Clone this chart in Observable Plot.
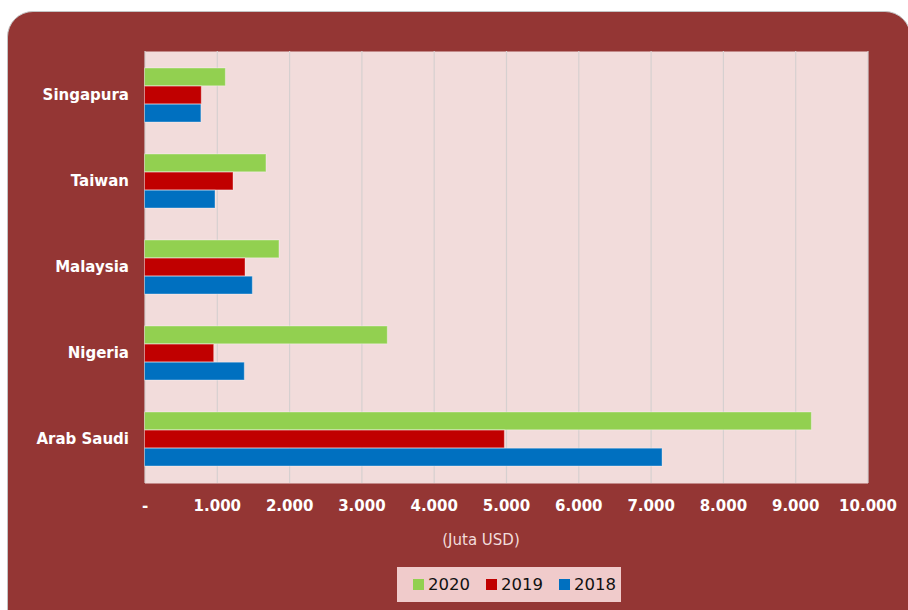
<!DOCTYPE html>
<html>
<head>
<meta charset="utf-8">
<script src="https://cdn.jsdelivr.net/npm/d3@7"></script>
<script src="https://cdn.jsdelivr.net/npm/@observablehq/plot@0.6"></script>
<style>
  html, body { margin: 0; padding: 0; background: #fff; width: 908px; height: 610px; overflow: hidden; }
  #panel { position: absolute; left: 7px; top: 11px; width: 904px; height: 640px; background: #943634;
           border: 1px solid #c4c4c4; border-radius: 26px; box-sizing: border-box; }
  #chart { position: absolute; left: 0; top: 0; }
  #xlabel { position: absolute; left: 381px; width: 200px; top: 531px; text-align: center;
            font-family: "DejaVu Sans", sans-serif; font-size: 15px; color: #F2DCDB; }
  #legend { position: absolute; left: 397px; top: 567px; width: 224px; height: 35px; background: #F0CBCB;
            display: flex; align-items: center; justify-content: flex-start; padding-left: 16px; box-sizing: border-box; gap: 16px;
            font-family: "DejaVu Sans", sans-serif; font-size: 16.5px; color: #111; }
  #legend .item { display: flex; align-items: center; gap: 4px; }
  #legend .sw { width: 11px; height: 11px; display: inline-block; }
</style>
</head>
<body>
<div id="panel"></div>
<div id="chart"></div>
<div id="xlabel">(Juta USD)</div>
<div id="legend"></div>
<script>
const countries = ["Singapura", "Taiwan", "Malaysia", "Nigeria", "Arab Saudi"];
const years = ["2020", "2019", "2018"];
const v2020 = [1118, 1680, 1860, 3358, 9223];
const v2019 = [785, 1224, 1390, 957, 4977];
const v2018 = [780, 975, 1491, 1380, 7158];
const xTicks = [0, 1000, 2000, 3000, 4000, 5000, 6000, 7000, 8000, 9000, 10000];
const colors = {"2020": "#92D050", "2019": "#C00000", "2018": "#0070C0"};

const series = {"2020": v2020, "2019": v2019, "2018": v2018};
const rows = years.map(y => countries.map((c, i) => ({country: c, year: y, value: series[y][i]})));
const fmt = d => d === 0 ? "-" : d3.format(",")(d).replace(/,/g, ".");

const barOpts = (yr, top, bottom) => Plot.barX(rows[years.indexOf(yr)], {
  x: "value", y: "country", fill: colors[yr], insetTop: top, insetBottom: bottom,
  stroke: "#ffffff", strokeOpacity: 0.35, strokeWidth: 1
});

const chart = Plot.plot({
  width: 908,
  height: 520,
  marginLeft: 144.5,
  marginRight: 40.5,
  marginTop: 51,
  marginBottom: 37,
  style: {background: "transparent", color: "#fff", fontFamily: "DejaVu Sans, sans-serif"},
  x: {domain: [0, 10000]},
  y: {domain: countries, paddingInner: 0.372, paddingOuter: 0.186},
  marks: [
    Plot.frame({fill: "#F2DCDB", stroke: null}),
    Plot.gridX(xTicks, {stroke: "#D6D0D0", strokeOpacity: 1, strokeWidth: 1.2}),
    barOpts("2020", 0, 36.2),
    barOpts("2019", 18.1, 18.1),
    barOpts("2018", 36.2, 0),
    Plot.axisX({ticks: xTicks, tickFormat: fmt, tickSize: 0, tickPadding: 17, fontSize: 15, fontWeight: "bold", fill: "#fff", label: null}),
    Plot.axisY({tickSize: 0, tickPadding: 16, fontSize: 15, fontWeight: "bold", fill: "#fff", label: null})
  ]
});
document.getElementById("chart").appendChild(chart);

const legend = document.getElementById("legend");
years.forEach(y => {
  const it = document.createElement("div");
  it.className = "item";
  it.innerHTML = `<span class="sw" style="background:${colors[y]}"></span><span>${y}</span>`;
  legend.appendChild(it);
});
</script>
</body>
</html>
